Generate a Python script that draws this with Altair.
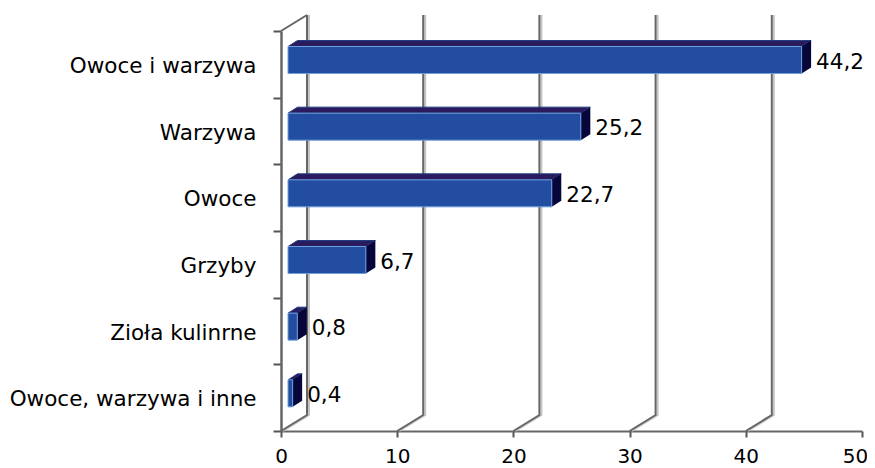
import altair as alt
import pandas as pd

categories = ["Owoce i warzywa", "Warzywa", "Owoce", "Grzyby", "Zioła kulinrne", "Owoce, warzywa i inne"]
values = [44.2, 25.2, 22.7, 6.7, 0.8, 0.4]
value_labels = ["44,2", "25,2", "22,7", "6,7", "0,8", "0,4"]
x_ticks = [0, 10, 20, 30, 40, 50]

W, H = 581, 400
XMAX = 50
PX = W / XMAX             # pixels per value unit
BAND = H / len(categories)
FONT = "DejaVu Sans"

# 3D look, in pixels
BAR_SHIFT = 7 / PX
BAR_TOP, BAR_H = 15.5, 27
DX, DY = 9.5 / PX, 6
WALL_DX, WALL_DY = 26 / PX, 16

front, faces, lbl = [], [], []
for i, (c, v, t) in enumerate(zip(categories, values, value_labels)):
    a, b = BAR_SHIFT, BAR_SHIFT + v
    ft = i * BAND + BAR_TOP
    fb = ft + BAR_H
    front.append(dict(a=a, b=b, ft=ft, fb=fb))
    for x in sorted({a, b, a + DX, b + DX}):
        low = ft if x <= b else ft - DY * (x - b) / DX
        up = ft - DY * min(1, (x - a) / DX)
        faces.append(dict(i=i, face="top", x=x, y=low, y2=up))
    faces.append(dict(i=i, face="side", x=b, y=fb, y2=ft))
    faces.append(dict(i=i, face="side", x=b + DX, y=fb - DY, y2=ft - DY))
    lbl.append(dict(x=b + DX + 5 / PX, y=ft + BAR_H / 2 + 2.5, t=t))

walls = []
for k, tv in enumerate(x_ticks[:-1]):
    for shift, name in ((0, "d"), (2 / PX, "l")):
        walls.append(dict(g=f"{k}{name}", kind=name, o=0, x=tv + shift, y=H))
        walls.append(dict(g=f"{k}{name}", kind=name, o=1, x=tv + shift + WALL_DX, y=H - WALL_DY))
        walls.append(dict(g=f"{k}{name}", kind=name, o=2, x=tv + shift + WALL_DX, y=-WALL_DY))
top_diag = [dict(o=0, x=0, y=0), dict(o=1, x=WALL_DX, y=-WALL_DY)]

xs = alt.Scale(domain=[0, XMAX], nice=False, zero=False)
ys = alt.Scale(domain=[0, H], range=[0, H], nice=False, zero=False)
x_axis = alt.Axis(values=x_ticks, format="d", grid=False, tickSize=6, tickWidth=2, tickColor="#555555",
                  domainColor="#666666", domainWidth=2, labelFont=FONT, labelFontSize=20,
                  labelColor="#000000", labelPadding=9, labelFlush=False, labelOverlap=False,
                  labelOffset=alt.expr("datum.value == 50 ? -7 : 0"))
X = alt.X("x:Q", scale=xs, title=None, axis=x_axis)
Y = alt.Y("y:Q", scale=ys, axis=None, stack=None)

base = alt.Chart(pd.DataFrame({"cat": categories, "x": values})).mark_bar(opacity=0).encode(
    x=X,
    y=alt.Y("cat:N", sort=categories, title=None,
            scale=alt.Scale(paddingInner=0, paddingOuter=0),
            axis=alt.Axis(tickBand="extent", tickSize=8, tickWidth=2, tickColor="#555555",
                          domainColor="#666666", domainWidth=2.5, labelFont=FONT, labelFontSize=21.5,
                          labelColor="#000000", labelPadding=17, labelLimit=300, labelOffset=2)),
)

wdf = pd.DataFrame(walls)
wall_light = alt.Chart(wdf[wdf.kind == "l"]).mark_line(color="#c4c4c4", strokeWidth=2).encode(
    x=X, y=Y, detail="g:N", order="o:Q")
wall_dark = alt.Chart(wdf[wdf.kind == "d"]).mark_line(color="#666666", strokeWidth=2).encode(
    x=X, y=Y, detail="g:N", order="o:Q")
diag = alt.Chart(pd.DataFrame(top_diag)).mark_line(color="#666666", strokeWidth=2).encode(x=X, y=Y, order="o:Q")

fdf = pd.DataFrame(faces)
top_face = alt.Chart(fdf[fdf.face == "top"]).mark_area(color="#2a1a5e", orient="vertical", stroke="#1f3f80", strokeWidth=1).encode(
    x=X, y=Y, y2="y2:Q", detail="i:N")
side_face = alt.Chart(fdf[fdf.face == "side"]).mark_area(color="#06063a", orient="vertical").encode(
    x=X, y=Y, y2="y2:Q", detail="i:N")
front_face = alt.Chart(pd.DataFrame(front)).mark_rect(color="#234da0", stroke="#6c9fdc", strokeWidth=1).encode(
    x=alt.X("a:Q", scale=xs, title=None, axis=x_axis), x2="b:Q",
    y=alt.Y("ft:Q", scale=ys, axis=None), y2="fb:Q")
labels = alt.Chart(pd.DataFrame(lbl)).mark_text(font=FONT, fontSize=21.5, align="left", baseline="middle", color="#000000").encode(
    x=X, y=alt.Y("y:Q", scale=ys, axis=None), text="t:N")

geometry = alt.layer(wall_light, wall_dark, diag, top_face, side_face, front_face, labels)
chart = alt.layer(base, geometry).resolve_scale(y="independent").properties(
    width=W, height=H,
    padding={"left": 273, "top": 23, "right": 5, "bottom": 37},
    autosize=alt.AutoSizeParams(type="none"),
).configure_view(stroke=None)

chart.save("out.html", embed_options={"renderer": "svg", "actions": False})
